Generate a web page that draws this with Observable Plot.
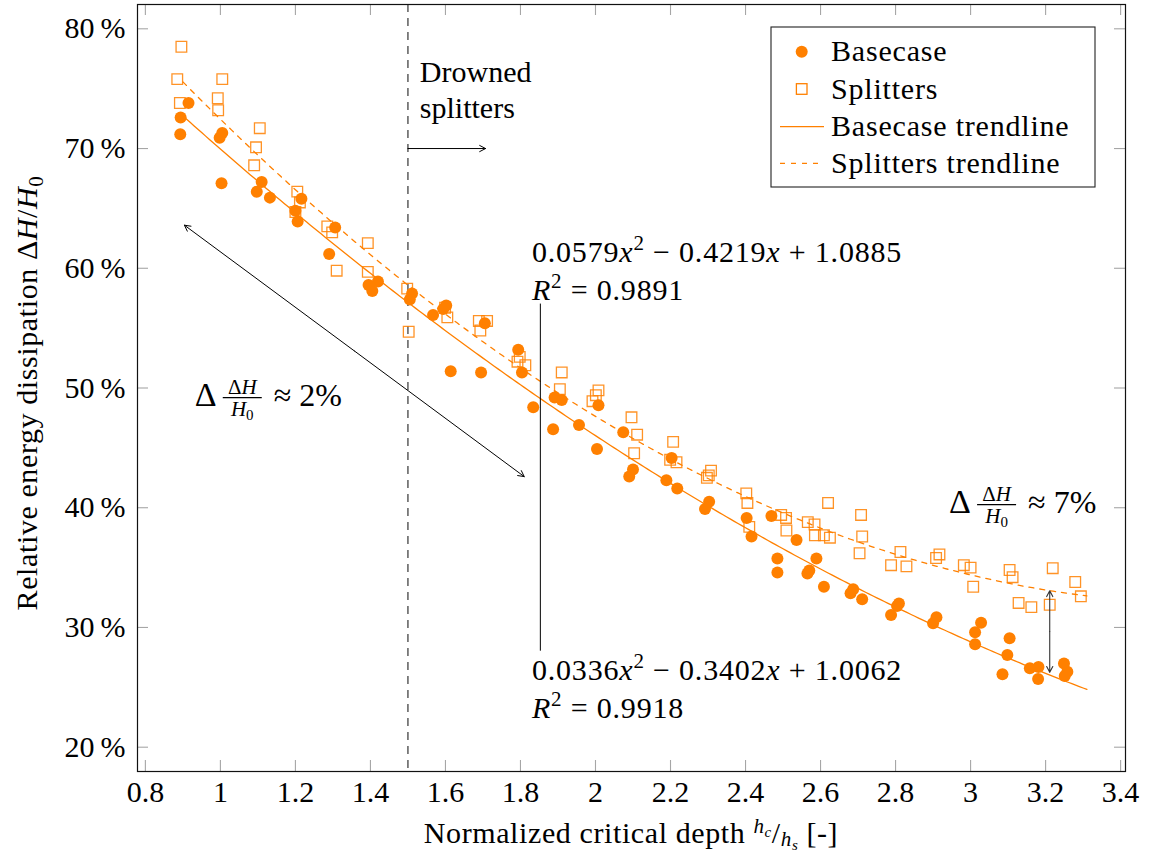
<!DOCTYPE html>
<html>
<head>
<meta charset="utf-8">
<script src="https://cdn.jsdelivr.net/npm/d3@7"></script>
<script src="https://cdn.jsdelivr.net/npm/@observablehq/plot@0.6"></script>
<style>
  html, body { margin: 0; padding: 0; background: #fff; }
  svg { display: block; }
</style>
</head>
<body>
<div id="chart"></div>
<script>
// ---------------- DATA ----------------
const basecaseX = [0.915,0.894,0.893,1.005,0.998,1.003,1.11,1.097,1.132,1.216,1.20,1.206,1.306,1.29,
  1.395,1.405,1.42,1.511,1.505,1.567,1.602,1.594,1.705,1.614,1.695,1.794,1.804,1.834,1.891,1.91,1.887,1.956,2.008,2.074,2.004,
  2.10,2.09,2.203,2.189,2.218,2.303,2.292,2.403,2.416,2.469,2.536,2.485,2.485,2.589,2.57,2.565,2.609,2.687,2.68,2.711,
  2.809,2.804,2.788,2.909,2.90,3.028,3.012,3.012,3.104,3.098,3.085,3.158,3.181,3.18,3.249,3.258,3.251];
const basecaseY = [73.8,72.6,71.2,71.3,70.9,67.1,67.2,66.4,65.9,65.8,64.8,63.9,63.4,61.2,
  58.6,58.1,58.9,57.9,57.4,56.1,56.9,56.6,55.4,51.4,51.3,53.2,51.3,48.4,49.2,49.0,46.55,46.9,48.55,46.3,44.9,
  43.2,42.6,44.15,42.3,41.6,40.5,39.9,39.15,37.6,39.3,37.3,35.75,34.6,35.75,34.75,34.5,33.4,33.2,32.85,32.35,
  32.0,31.8,31.05,30.85,30.35,30.4,29.6,28.6,29.1,27.7,26.1,26.6,26.7,25.7,27.0,26.3,25.95];

const splittersX = [0.896,0.885,0.892,1.005,0.993,0.994,1.105,1.095,1.09,1.205,1.212,1.20,1.285,1.298,1.393,1.31,1.393,
  1.498,1.502,1.599,1.605,1.689,1.711,1.693,1.798,1.792,1.813,1.91,1.905,2.008,2.001,1.992,2.096,2.111,2.207,
  2.103,2.199,2.216,2.308,2.302,2.297,2.402,2.405,2.41,2.495,2.508,2.509,2.566,2.584,2.585,2.609,2.625,2.62,2.708,2.711,2.704,
  2.813,2.788,2.829,2.917,2.908,2.982,3.0,3.007,3.104,3.112,3.128,3.162,3.219,3.211,3.279,3.294];
const splittersY = [78.5,75.8,73.8,75.8,74.2,73.2,71.7,70.1,68.6,66.4,65.5,64.7,63.5,63.0,62.1,59.8,59.7,
  58.3,54.7,56.7,55.9,55.6,55.6,54.8,52.6,52.2,51.9,51.3,49.9,49.8,49.4,48.9,47.55,46.1,45.5,
  44.55,44.0,43.8,43.1,42.7,42.5,41.2,40.4,38.4,39.4,39.15,38.1,38.8,38.6,37.7,37.7,37.5,40.4,39.4,37.6,36.2,
  36.3,35.2,35.1,36.1,35.8,35.2,35.0,33.4,34.8,34.2,32.05,31.7,34.95,31.9,33.8,32.6];

// Trendline coefficients printed on the chart (fraction units): a x^2 + b x + c
const basecaseCoef = [0.0336, -0.3402, 1.0062];
const splittersCoef = [0.0579, -0.4219, 1.0885];
const basecaseR2 = "0.9918";
const splittersR2 = "0.9891";
const trendRange = [0.9, 3.31];

const seriesNames = ["Basecase", "Splitters", "Basecase trendline", "Splitters trendline"];

const xTicks = [0.8,1,1.2,1.4,1.6,1.8,2,2.2,2.4,2.6,2.8,3,3.2,3.4];
const xTickLabels = ["0.8","1","1.2","1.4","1.6","1.8","2","2.2","2.4","2.6","2.8","3","3.2","3.4"];
const yTicks = [20,30,40,50,60,70,80];
const yTickLabels = ["20\u2009%","30\u2009%","40\u2009%","50\u2009%","60\u2009%","70\u2009%","80\u2009%"];

const drownedX = 1.5;       // threshold line
const spreadSmall = "2%";
const spreadLarge = "7%";

// ---------------- build tables ----------------
const basecase = basecaseX.map((x, i) => ({x, y: basecaseY[i]}));
const splitters = splittersX.map((x, i) => ({x, y: splittersY[i]}));
const poly = (c, x) => 100 * (c[0] * x * x + c[1] * x + c[2]);
const trendXs = d3.range(trendRange[0], trendRange[1] + 1e-9, 0.01);
const basecaseTrend = trendXs.map(x => ({x, y: poly(basecaseCoef, x)}));
const splittersTrend = trendXs.map(x => ({x, y: poly(splittersCoef, x)}));

// ---------------- styling ----------------
const FONT = "Liberation Serif, DejaVu Serif, Noto Serif, serif";
const FS = 30;
const ORANGE = "#ff8000";
const TICK = "#a6a6a6";
const W = 1162, H = 859;
const M = {top: 4, right: 37, bottom: 88, left: 137};
const plotW = W - M.left - M.right, plotH = H - M.top - M.bottom;
const TL = 11; // tick length

const fmtCoef = v => Math.abs(v).toFixed(4);

const chart = Plot.plot({
  width: W, height: H,
  marginTop: M.top, marginRight: M.right, marginBottom: M.bottom, marginLeft: M.left,
  style: {fontFamily: FONT, fontSize: FS + "px", color: "#000", background: "#fff"},
  x: {domain: [0.779, 3.413]},
  y: {domain: [17.97, 82.03]},
  marks: [
    // inward mirrored ticks
    Plot.tickX(xTicks, {x: d => d, insetTop: plotH - TL, stroke: TICK, strokeWidth: 1.1}),
    Plot.tickX(xTicks, {x: d => d, insetBottom: plotH - TL, stroke: TICK, strokeWidth: 1.1}),
    Plot.tickY(yTicks, {y: d => d, insetRight: plotW - TL, stroke: TICK, strokeWidth: 1.1}),
    Plot.tickY(yTicks, {y: d => d, insetLeft: plotW - TL, stroke: TICK, strokeWidth: 1.1}),
    Plot.axisX(xTicks, {anchor: "bottom", tickSize: 0, tickPadding: 9, label: null, fontSize: FS, fontFamily: FONT,
      tickFormat: d => xTickLabels[xTicks.indexOf(d)]}),
    Plot.axisY(yTicks, {anchor: "left", tickSize: 0, tickPadding: 12, label: null, fontSize: FS, fontFamily: FONT,
      tickFormat: d => yTickLabels[yTicks.indexOf(d)]}),
    // drowned threshold
    Plot.ruleX([drownedX], {stroke: "#222", strokeWidth: 1.1, strokeDasharray: "8,6"}),
    // trendlines
    Plot.line(basecaseTrend, {x: "x", y: "y", stroke: ORANGE, strokeWidth: 1.3}),
    Plot.line(splittersTrend, {x: "x", y: "y", stroke: ORANGE, strokeWidth: 1.3, strokeDasharray: "5,6"}),
    // data
    Plot.dot(basecase, {x: "x", y: "y", r: 6, fill: ORANGE, stroke: null}),
    Plot.dot(splitters, {x: "x", y: "y", r: 6, symbol: "square", fill: "none", stroke: ORANGE, strokeWidth: 1.3, strokeOpacity: 0.85}),
    // arrows
    Plot.arrow([{x1: 1.5, y1: 70, x2: 1.707, y2: 70}], {x1: "x1", y1: "y1", x2: "x2", y2: "y2", stroke: "#000", strokeWidth: 1, headLength: 10, headAngle: 55}),
    Plot.arrow([{x1: 1.357, y1: 53.1, x2: 0.904, y2: 63.6}, {x1: 1.357, y1: 53.1, x2: 1.81, y2: 42.6}],
      {x1: "x1", y1: "y1", x2: "x2", y2: "y2", stroke: "#000", strokeWidth: 1, headLength: 10, headAngle: 55}),
    Plot.arrow([{x1: 3.211, y1: 29.66, x2: 3.211, y2: 33.07}, {x1: 3.211, y1: 29.66, x2: 3.211, y2: 26.25}],
      {x1: "x1", y1: "y1", x2: "x2", y2: "y2", stroke: "#333", strokeWidth: 1.1, headLength: 9, headAngle: 55}),
    Plot.link([{x1: 1.853, y1: 57.05, x2: 1.853, y2: 28.06}], {x1: "x1", y1: "y1", x2: "x2", y2: "y2", stroke: "#000", strokeWidth: 1}),
    Plot.frame({stroke: "#111", strokeWidth: 1.2})
  ]
});
document.getElementById("chart").appendChild(chart);

const sx = chart.scale("x"), sy = chart.scale("y");
const svg = d3.select(chart);

function rich(px, py, parts, opts = {}) {
  const t = svg.append("text")
    .attr("x", px).attr("y", py)
    .style("font-family", FONT).attr("font-size", opts.size || FS)
    .attr("fill", "#000").attr("text-anchor", opts.anchor || "start");
  if (opts.spacing) t.attr("letter-spacing", opts.spacing);
  if (opts.rotate) t.attr("transform", `rotate(-90 ${px} ${py})`);
  let shift = 0;
  for (const p of parts) {
    const s = t.append("tspan").text(p.t);
    if (p.i) s.attr("font-style", "italic");
    if (p.size) s.attr("font-size", p.size);
    const target = p.dy || 0;
    if (target !== shift) { s.attr("dy", target - shift); shift = target; }
  }
  return t;
}

// Axis labels
rich(M.left + plotW / 2, 843, [
  {t: "Normalized critical depth "},
  {t: "h", i: true, size: 21, dy: -10},
  {t: "c", i: true, size: 15, dy: -6},
  {t: "/", dy: 0},
  {t: "h", i: true, size: 21, dy: 3},
  {t: "s", i: true, size: 15, dy: 7},
  {t: " [-]", dy: 0}
], {anchor: "middle", spacing: 0.6});

rich(37, 393, [
  {t: "Relative energy dissipation Δ"},
  {t: "H", i: true},
  {t: "/"},
  {t: "H", i: true},
  {t: "0", size: 21, dy: 6}
], {anchor: "middle", rotate: true, spacing: 0.6});

// "Drowned splitters"
rich(sx.apply(1.533), sy.apply(75.5), [{t: "Drowned"}]);
rich(sx.apply(1.533), sy.apply(72.5), [{t: "splitters"}]);

// equations
function equation(xv, yv, coef, r2) {
  const px = sx.apply(xv), py = sy.apply(yv);
  rich(px, py, [
    {t: fmtCoef(coef[0])}, {t: "x", i: true}, {t: "2", size: 21, dy: -12},
    {t: (coef[1] < 0 ? " − " : " + ") + fmtCoef(coef[1]), dy: 0}, {t: "x", i: true},
    {t: (coef[2] < 0 ? " − " : " + ") + fmtCoef(coef[2])}
  ], {spacing: 0.8});
  rich(px, py + 38, [
    {t: "R", i: true}, {t: "2", size: 21, dy: -12}, {t: " = " + r2, dy: 0}
  ], {spacing: 0.8});
}
equation(1.832, 60.48, splittersCoef, splittersR2);
equation(1.832, 25.55, basecaseCoef, basecaseR2);

// delta fractions
function deltaFrac(xv, yv, pct) {
  const x0 = sx.apply(xv), b = sy.apply(yv);
  rich(x0, b, [{t: "Δ"}], {size: 34});
  rich(x0 + 47.5, b - 12, [{t: "Δ"}, {t: "H", i: true}], {anchor: "middle", size: 21});
  svg.append("line").attr("x1", x0 + 28).attr("x2", x0 + 67).attr("y1", b - 8.5).attr("y2", b - 8.5)
    .attr("stroke", "#000").attr("stroke-width", 1.2);
  rich(x0 + 47.5, b + 10, [{t: "H", i: true}, {t: "0", size: 15, dy: 4}], {anchor: "middle", size: 21});
  rich(x0 + 79, b, [{t: "≈ " + pct}], {size: 32});
}
deltaFrac(0.933, 48.45, spreadSmall);
deltaFrac(2.944, 39.5, spreadLarge);

// legend
const lg = svg.append("g");
lg.append("rect").attr("x", 771).attr("y", 27).attr("width", 324).attr("height", 160)
  .attr("fill", "#fff").attr("stroke", "#222").attr("stroke-width", 1.1);
const rows = [51.7, 89, 126.7, 163.3];
lg.append("circle").attr("cx", 801.7).attr("cy", rows[0]).attr("r", 6).attr("fill", ORANGE);
lg.append("rect").attr("x", 801.7 - 5.3).attr("y", rows[1] - 5.3).attr("width", 10.6).attr("height", 10.6)
  .attr("fill", "none").attr("stroke", ORANGE).attr("stroke-width", 1.3);
lg.append("line").attr("x1", 780).attr("x2", 824).attr("y1", rows[2]).attr("y2", rows[2])
  .attr("stroke", ORANGE).attr("stroke-width", 1.3);
lg.append("line").attr("x1", 780).attr("x2", 824).attr("y1", rows[3]).attr("y2", rows[3])
  .attr("stroke", ORANGE).attr("stroke-width", 1.3).attr("stroke-dasharray", "5,6");
seriesNames.forEach((n, i) => {
  lg.append("text").attr("x", 831).attr("y", rows[i] + 9.5).style("font-family", FONT)
    .attr("text-anchor", "start").attr("font-size", FS).attr("letter-spacing", 0.8)
    .attr("fill", "#000").text(n);
});
</script>
</body>
</html>
